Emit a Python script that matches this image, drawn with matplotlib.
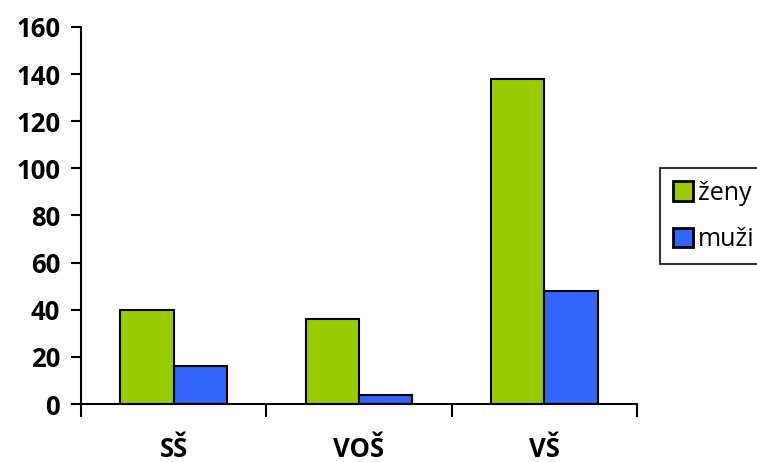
import matplotlib
matplotlib.use("Agg")
import matplotlib.pyplot as plt
import numpy as np

categories = ["SŠ", "VOŠ", "VŠ"]
zeny = [40, 36, 138]
muzi = [16, 4, 48]
series_names = ["ženy", "muži"]
yticks = [0, 20, 40, 60, 80, 100, 120, 140, 160]

plt.rcParams['font.family'] = ['Open Sans', 'DejaVu Sans']

fig = plt.figure(figsize=(7.57, 4.62), dpi=100)
ax = fig.add_axes([0.107, 0.1255, 0.7345, 0.8161])

x = np.arange(len(categories))
w = 0.288
ax.bar(x - w/2, zeny, w, color="#99CC00", edgecolor="black", linewidth=1.5, label=series_names[0])
ax.bar(x + w/2, muzi, w, color="#3366FF", edgecolor="black", linewidth=1.5, label=series_names[1])

ax.set_xlim(-0.5, len(categories) - 0.5)
ax.set_ylim(0, 160)
ax.set_yticks(yticks)
ax.set_yticklabels([str(v) for v in yticks], fontsize=18.5, fontweight="bold")
ax.set_xticks(np.arange(len(categories) + 1) - 0.5)
ax.set_xticklabels([])
ax.set_xticks(x, minor=True)
ax.set_xticklabels(categories, minor=True, fontsize=18.5, fontweight="bold")
ax.tick_params(axis="x", which="major", direction="out", length=9, width=1.5)
ax.tick_params(axis="x", which="minor", length=0, pad=23)
ax.tick_params(axis="y", direction="out", length=7, width=1.5, pad=8)

for s in ["top", "right"]:
    ax.spines[s].set_visible(False)
for s in ["left", "bottom"]:
    ax.spines[s].set_linewidth(1.5)

leg = fig.legend(loc="upper left", bbox_to_anchor=(0.872, 0.636), fontsize=18,
                 frameon=True, fancybox=False, edgecolor="black",
                 handlelength=0.8, handleheight=0.8, handletextpad=0.2,
                 labelspacing=0.85, borderpad=0.5, borderaxespad=0)
leg.get_frame().set_linewidth(1.5)
for h in leg.legend_handles:
    h.set_linewidth(2)

fig.savefig("out.png", dpi=100)
